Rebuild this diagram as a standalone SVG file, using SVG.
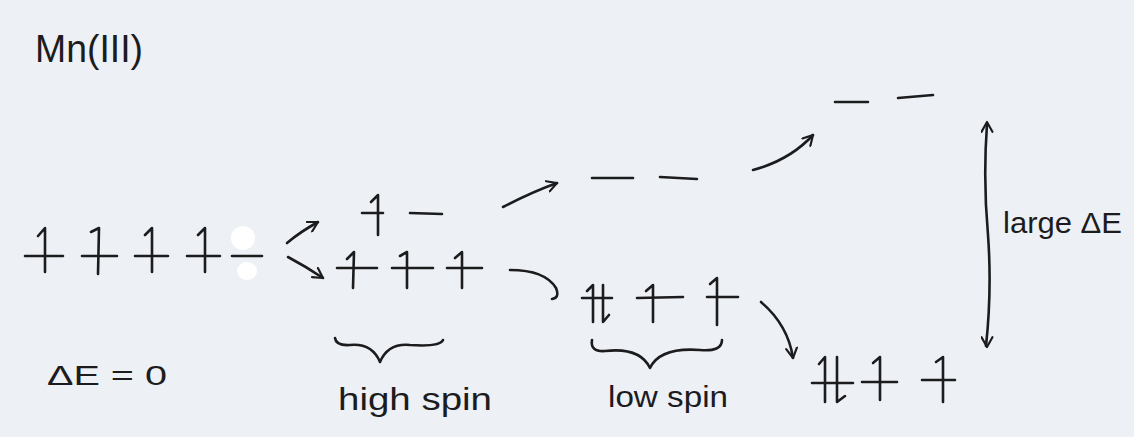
<svg xmlns="http://www.w3.org/2000/svg" width="1134" height="437" viewBox="0 0 1134 437">
  <defs>
    <style>
      .ink{stroke:#1c1c1e;stroke-width:2.6;fill:none;stroke-linecap:round;stroke-linejoin:round}
      .orb{stroke:#1c1c1e;stroke-width:2.6;fill:none;stroke-linecap:round}
      .txt{font-family:"Liberation Sans","DejaVu Sans",sans-serif;fill:#1c1c1e}
    </style>
    <marker id="head" viewBox="0 0 12 12" refX="10" refY="6" markerWidth="13" markerHeight="13" markerUnits="userSpaceOnUse" orient="auto-start-reverse">
      <path d="M1,1 L10,6 L1,11" fill="none" stroke="#1c1c1e" stroke-width="2" stroke-linecap="round" stroke-linejoin="round"/>
    </marker>
  </defs>
  <rect width="1134" height="437" fill="#edf0f4"/>

  <g id="title">
    <text class="txt" x="35" y="62" font-size="38" textLength="108" lengthAdjust="spacingAndGlyphs">Mn(III)</text>
  </g>

  <g id="free-ion">
    <path class="orb" d="M25,256 L63,256 M82,256 L117,256 M135,256 L168,256 M187,256 L220,256"/>
    <path class="ink" d="M45,272 L45,228 L38,236 M98,274 L99,228 L91,232 M152,272 L152,228 L145,235 M205,272 L205,228 L198,235"/>
    <ellipse cx="243" cy="238" rx="12" ry="12" fill="#ffffff"/>
    <ellipse cx="247" cy="271" rx="10" ry="9" fill="#ffffff"/>
    <path class="orb" d="M232,256 L262,256"/>
    <text class="txt" x="47" y="385" font-size="28" textLength="120" lengthAdjust="spacingAndGlyphs">ΔE = 0</text>
  </g>

  <g id="high-spin">
    <path class="orb" d="M362,213 L383,213 M410,213 L442,214"/>
    <path class="ink" d="M378,235 L378,195 L371,202"/>
    <path class="orb" d="M337,268 L377,268 M392,268 L433,268 M447,268 L482,268"/>
    <path class="ink" d="M353,288 L354,252 L347,259 M407,288 L407,252 L400,256 M462,288 L462,252 L455,258"/>
    <path class="ink" d="M335,338 Q336,346 350,345 Q372,343 380,362 Q388,343 410,345 Q440,347 443,340"/>
    <text class="txt" x="338" y="410" font-size="32" textLength="154" lengthAdjust="spacingAndGlyphs">high spin</text>
  </g>

  <g id="eg-mid">
    <path class="orb" d="M592,178 L633,178 M660,177 L697,179"/>
  </g>

  <g id="low-spin">
    <path class="orb" d="M582,298 L612,298 M637,298 L683,297 M707,297 L738,297"/>
    <path class="ink" d="M593,322 L593,285 L587,291 M603,285 L603,322 L609,315 M653,322 L653,285 L646,291 M717,325 L717,278 L710,284"/>
    <path class="ink" d="M592,340 Q590,352 605,351 Q640,347 650,368 Q660,347 700,350 Q722,352 722,340"/>
    <text class="txt" x="608" y="407" font-size="30" textLength="120" lengthAdjust="spacingAndGlyphs">low spin</text>
  </g>

  <g id="eg-top">
    <path class="orb" d="M835,102 L868,102 M898,98 L933,95"/>
  </g>

  <g id="strong-field">
    <path class="orb" d="M812,383 L853,383 M862,382 L897,382 M922,380 L955,380"/>
    <path class="ink" d="M825,402 L825,357 L819,364 M837,357 L837,402 L845,396 M880,400 L880,357 L873,363 M943,402 L943,357 L936,362"/>
    <path class="ink" d="M987,124 Q983,180 988,235 Q992,290 986,346"/>
    <text class="txt" x="1003" y="233" font-size="30" textLength="119" lengthAdjust="spacingAndGlyphs">large ΔE</text>
  </g>

  <g id="connectors">
    <path class="ink" d="M287,243 Q300,232 318,222" marker-end="url(#head)"/>
    <path class="ink" d="M288,257 Q305,266 323,278" marker-end="url(#head)"/>
    <path class="ink" d="M503,207 Q532,192 557,183" marker-end="url(#head)"/>
    <path class="ink" d="M753,170 Q790,160 813,135" marker-end="url(#head)"/>
    <path class="ink" d="M510,270 Q545,270 556,288 Q560,298 552,299" />
    <path class="ink" d="M761,302 Q788,325 793,358" marker-end="url(#head)"/>
    <path class="ink" d="M987,122 L987,347" marker-start="url(#head)" marker-end="url(#head)" stroke-opacity="0"/>
  </g>
</svg>
